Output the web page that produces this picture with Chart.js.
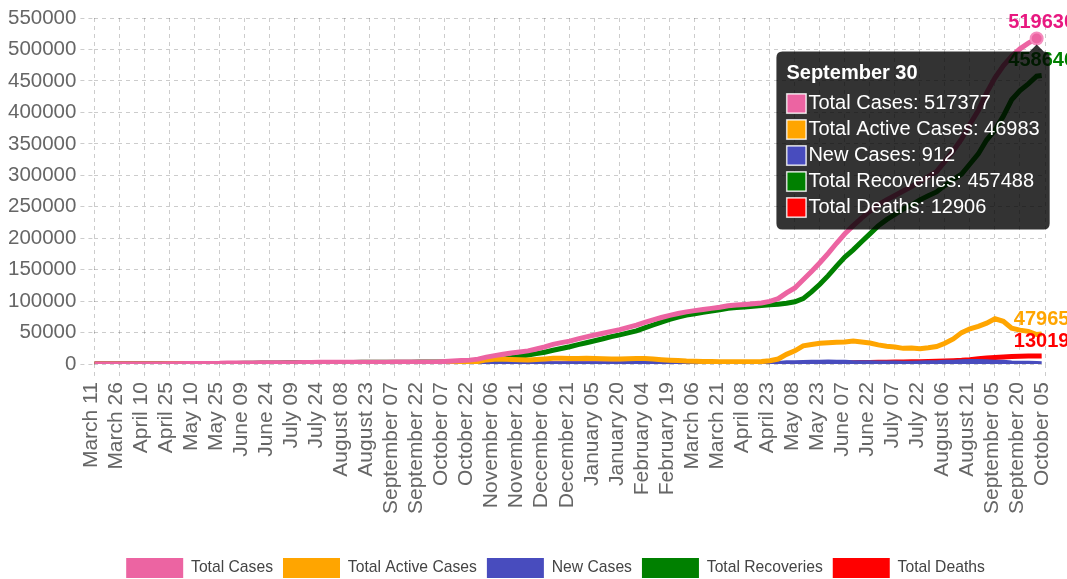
<!DOCTYPE html>
<html><head><meta charset="utf-8">
<script src="https://cdn.jsdelivr.net/npm/chart.js@4"></script>
<style>html,body{margin:0;padding:0;background:#fff;}#c{display:block;}</style>
</head><body>
<canvas id="c" width="1067" height="579"></canvas>
<script>
// ---- tick labels (x axis, one every 15 days) ----
const tickLabels = ["March 11","March 26","April 10","April 25","May 10","May 25","June 09","June 24","July 09","July 24","August 08","August 23","September 07","September 22","October 07","October 22","November 06","November 21","December 06","December 21","January 05","January 20","February 04","February 19","March 06","March 21","April 08","April 23","May 08","May 23","June 07","June 22","July 07","July 22","August 06","August 21","September 05","September 20","October 05"];
const yTicks = [0,50000,100000,150000,200000,250000,300000,350000,400000,450000,500000,550000];

// ---- sampled day positions (day index from March 11) ----
const days = [0,5,10,15,20,25,30,35,40,45,50,55,60,65,70,75,80,85,90,95,100,105,110,115,120,125,130,135,140,145,150,155,160,165,170,175,180,185,190,195,200,205,210,215,220,225,230,235,240,245,250,255,260,265,270,275,280,285,290,295,300,305,310,315,320,325,330,335,340,345,350,355,360,365,370,375,380,385,390,395,400,405,410,415,420,425,430,435,440,445,450,455,460,465,470,475,480,485,490,495,500,505,510,515,520,525,530,535,540,545,550,555,560,565,568];

const totalCases = [2,28,77,106,143,176,197,238,304,460,649,755,863,925,1027,1141,1620,1801,1859,1915,1950,2001,2047,2074,2116,2617,2687,2730,2810,2828,2844,2880,2900,2941,2990,3049,3140,3222,3280,3313,3333,3380,4252,4820,5625,6287,7872,11060,13419,15722,17560,19280,21012,23987,27228,31375,34121,36459,40069,43299,46244,48932,51894,54777,58377,62000,66364,70214,74027,77441,80367,82961,85000,86753,88525,90200,92700,93800,94800,96000,97200,99691,104000,113000,121000,134000,147000,161000,176000,192000,207000,220000,232000,243000,253000,261000,268000,275000,282000,290000,298000,306000,322000,339000,358000,381000,403000,431000,455000,474000,489000,501000,510000,517377,519630];
const activeCases = [2,28,76,96,120,135,140,160,212,340,490,540,600,530,440,410,810,840,600,440,320,260,190,140,130,600,580,460,300,200,160,160,140,130,150,160,190,210,200,180,160,190,1050,1520,2000,2500,3900,6650,7700,7900,7400,7000,6600,7300,8200,9300,9200,8700,8900,9200,9000,8500,8000,8200,8600,9000,8800,8000,7000,6200,5600,5000,4700,4300,4000,3900,3800,3700,3700,3800,4000,5200,8000,15500,21000,29000,31000,33000,34000,34700,35000,36500,35000,33500,30500,28500,27000,25000,25500,24500,26000,28000,33000,40000,50000,56000,60000,65000,72000,68000,57000,54000,52000,46983,47965];
const newCases = [1,10,5,4,21,10,7,5,33,40,30,37,16,10,20,52,62,12,24,9,3,5,4,12,12,63,14,7,4,5,3,6,8,12,13,14,11,9,6,2,1,10,220,60,150,309,351,397,478,372,410,330,396,878,600,684,677,564,527,627,471,589,618,649,829,736,874,743,791,680,492,534,337,315,302,318,242,213,199,225,367,969,1111,1923,1939,2568,2771,2944,3406,2920,2741,2000,2000,2100,1820,1700,1600,1500,1500,1800,2000,2000,2800,3100,3600,4000,4100,3700,3000,2800,1800,1400,1200,912,700];
const totalRecoveries = [0,0,1,9,21,36,54,71,85,113,151,206,254,386,578,721,800,950,1248,1464,1620,1730,1846,1923,1975,2006,2096,2259,2499,2617,2673,2709,2749,2799,2827,2877,2938,2999,3068,3120,3160,3177,3189,3287,3612,3774,3950,4390,5681,7781,10100,12200,14300,16600,18900,21900,24800,27600,31000,34000,37000,40300,43700,46400,49600,52800,57400,62100,66800,71000,74600,77800,80100,82300,84300,86100,88700,89900,90900,92000,92900,94300,95200,96700,99100,104000,114700,126800,140500,155700,170000,181500,194500,207000,219700,229500,237700,246500,252900,261000,267600,273600,284000,293700,302000,318000,334000,356000,372000,394000,420000,434500,445200,457488,458646];
const totalDeaths = [0,0,0,0,2,5,7,7,7,7,7,9,9,9,9,10,10,11,11,11,11,11,11,11,11,11,11,11,11,11,11,11,12,12,12,12,12,12,13,13,13,13,13,13,13,13,16,21,34,48,61,76,96,118,131,150,154,172,186,205,218,237,252,276,289,308,334,366,396,426,447,459,507,527,538,551,566,583,593,610,617,635,661,703,764,861,1000,1200,1400,1630,1840,2100,2350,2600,2800,3100,3350,3500,3700,3900,4100,4400,4900,5500,6100,7000,8500,9600,10500,11400,11900,12300,12650,12906,13019];

const seriesNames = ["Total Cases","Total Active Cases","New Cases","Total Recoveries","Total Deaths"];
const seriesColors = ["rgb(236,100,162)","rgb(255,165,0)","rgb(72,76,190)","rgb(0,128,0)","rgb(255,0,0)"];
const endLabelColors = ["rgb(232,24,128)","rgb(255,165,0)",null,"rgb(0,128,0)","rgb(255,0,0)"];
const hoverDay = 565;

const FONT = "'Liberation Sans', Arial, Helvetica, sans-serif";
Chart.defaults.font.family = FONT;
Chart.defaults.color = '#666';

const seriesValues = [totalCases, activeCases, newCases, totalRecoveries, totalDeaths];
const datasets = seriesValues.map((vals, i) => ({
  label: seriesNames[i],
  data: vals.map((v, j) => ({x: days[j], y: v})),
  borderColor: seriesColors[i],
  backgroundColor: seriesColors[i],
  borderWidth: 5,
  pointRadius: 0,
  pointHoverRadius: i === 0 ? 6 : 0,
  pointHoverBorderWidth: 2,
  pointHoverBackgroundColor: seriesColors[i],
  pointHoverBorderColor: 'rgb(245,140,190)',
  tension: 0,
  fill: false
}));

const monthNames = ["January","February","March","April","May","June","July","August","September","October","November","December"];
function dayTitle(d) {
  const dt = new Date(2020, 2, 11 + d + (d > 375 ? 3 : 0));
  return monthNames[dt.getMonth()] + ' ' + String(dt.getDate()).padStart(2, '0');
}

const endLabels = {
  id: 'endLabels',
  afterDatasetsDraw(chart) {
    const ctx = chart.ctx;
    ctx.save();
    ctx.font = "bold 20px " + FONT;
    ctx.textAlign = 'center';
    ctx.textBaseline = 'middle';
    chart.data.datasets.forEach((ds, i) => {
      if (!endLabelColors[i]) return;
      const meta = chart.getDatasetMeta(i);
      const pt = meta.data[meta.data.length - 1];
      ctx.fillStyle = endLabelColors[i];
      ctx.fillText(String(ds.data[ds.data.length - 1].y), pt.x, pt.y - 14.5);
    });
    ctx.restore();
  }
};

// legend sits a little right of centre and flush with the bottom edge in the reference
const LEGEND_SHIFT_X = 31, LEGEND_SHIFT_Y = 30;
const legendShift = {
  id: 'legendShift',
  afterLayout(chart) {
    const l = chart.legend;
    l.left += LEGEND_SHIFT_X; l.right += LEGEND_SHIFT_X;
    l.top += LEGEND_SHIFT_Y; l.bottom += LEGEND_SHIFT_Y;
  }
};

const gridColor = 'rgba(0,0,0,0.2)';
const chart = new Chart(document.getElementById('c'), {
  type: 'line',
  data: { datasets },
  options: {
    responsive: false,
    animation: false,
    devicePixelRatio: 1,
    layout: { padding: { left: 4, right: 22, top: 18, bottom: 21 } },
    interaction: { mode: 'index', intersect: false },
    scales: {
      x: {
        type: 'linear', min: 0, max: 570,
        afterFit: (s) => { s.paddingRight = 0; },
        ticks: { stepSize: 15, autoSkip: false, minRotation: 90, maxRotation: 90, labelOffset: -3, font: { size: 21 }, color: '#666', padding: 4,
          callback: (v) => tickLabels[Math.round(v / 15)] },
        grid: { color: gridColor, tickLength: 14, tickBorderDash: [4, 4], tickColor: gridColor },
        border: { display: false, dash: [4, 4] }
      },
      y: {
        min: 0, max: 550000,
        afterBuildTicks: (s) => { s.ticks = yTicks.map(v => ({ value: v })); },
        afterFit: (s) => { s.paddingTop = 0; },
        ticks: { font: { size: 20.5 }, color: '#666', padding: 4, callback: (v) => String(v) },
        grid: { color: gridColor, tickLength: 14, tickBorderDash: [4, 4], tickColor: gridColor },
        border: { display: false, dash: [4, 4] }
      }
    },
    plugins: {
      legend: {
        position: 'bottom',
        labels: {
          boxWidth: 57, boxHeight: 20, padding: 10, color: '#444', font: { size: 15.7 },
          generateLabels: (c) => Chart.defaults.plugins.legend.labels.generateLabels(c).map(l => Object.assign(l, { lineWidth: 0 }))
        }
      },
      tooltip: {
        animation: false,
        position: 'nearest',
        backgroundColor: 'rgba(0,0,0,0.8)',
        titleFont: { size: 20, weight: 'bold' },
        bodyFont: { size: 20 },
        titleColor: '#fff', bodyColor: '#fff',
        padding: 10, caretSize: 7, caretPadding: 6, cornerRadius: 6,
        titleMarginBottom: 6, bodySpacing: 2, boxWidth: 20, boxHeight: 20,
        callbacks: {
          title: (items) => dayTitle(items[0].parsed.x),
          label: (c) => c.dataset.label + ': ' + c.parsed.y,
          labelColor: (c) => ({ borderColor: 'rgba(255,255,255,0.55)', backgroundColor: seriesColors[c.datasetIndex] })
        }
      }
    }
  },
  plugins: [endLabels, legendShift]
});

const hi = days.indexOf(hoverDay);
const active = datasets.map((d, i) => ({ datasetIndex: i, index: hi }));
chart.setActiveElements(active);
const hp = chart.getDatasetMeta(0).data[hi];
chart.tooltip.setActiveElements(active, { x: hp.x, y: hp.y });
chart.update();
</script>
</body></html>
